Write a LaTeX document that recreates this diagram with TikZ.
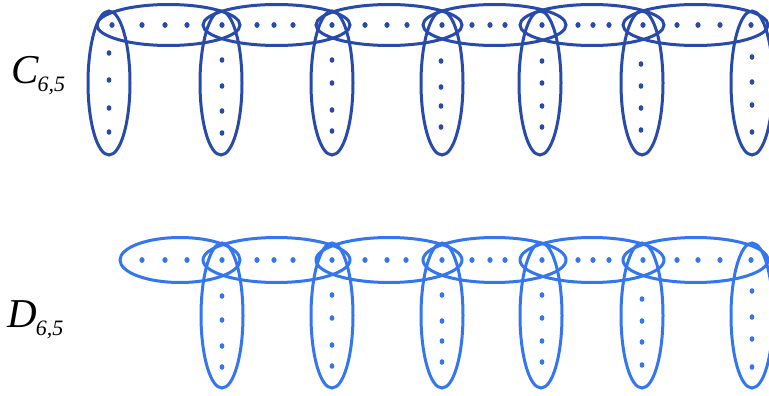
\documentclass[tikz,border=0pt]{standalone}
\usepackage{fontspec}
\setmainfont{Liberation Serif}
\definecolor{cdark}{RGB}{40,74,170}
\definecolor{dlight}{RGB}{52,118,240}
\begin{document}
\begin{tikzpicture}[x=1pt,y=-1pt,
  edge/.style={line width=3pt},
  lbl/.style={anchor=base west, inner sep=0pt, text=black}]
\useasboundingbox (0,0) rectangle (769,396);
% ---------- C_{6,5} ----------
\begin{scope}[cdark]
\foreach \l/\r in {97/240,203/350,316/462,423/566,520/664,623/768}
  \draw[edge] ({(\l+\r)/2},25) ellipse [x radius={(\r-\l)/2}, y radius=20.5];
\foreach \x in {109,221,332,442,540,642,752}
  \draw[edge] (\x,83) ellipse [x radius=21, y radius=72];
% junction and horizontal dots
\foreach \x in {112,142,165,187,222,257,274,293,332,365,387,407,442,472,490,505,542,578,593,609,643,677,698,720,751}
  \fill (\x,25) circle [x radius=2.6, y radius=2.9];
% vertical dots
\foreach \x/\a/\b/\c/\d in {109/53/80/108/132,222/60/86/111/133,332/60/83/110/131,441/61/87/106/127,542/61/83/106/127,641/64/86/108/130,752/57/82/105/132}
  \foreach \y in {\a,\b,\c,\d}
    \fill (\x,\y) circle [x radius=2.4, y radius=2.8];
\end{scope}
% ---------- D_{6,5} ----------
\begin{scope}[dlight]
\foreach \l/\r in {120/240,203/350,316/462,423/566,520/664,623/768}
  \draw[edge] ({(\l+\r)/2},260) ellipse [x radius={(\r-\l)/2}, y radius=22.5];
\foreach \x in {222,332,442,541,642,752}
  \draw[edge] (\x,315.5) ellipse [x radius=21, y radius=72.5];
\foreach \x in {142,165,187,222,257,274,293,332,365,387,406,442,472,490,505,542,578,593,609,643,677,698,720,751}
  \fill (\x,260) circle [x radius=2.6, y radius=2.9];
\foreach \x/\a/\b/\c/\d in {222/296/320/346/367,332/295/318/345/366,442/295/321/341/362,542/295/318/341/362,642/299/321/342/365,752/291/317/339/367}
  \foreach \y in {\a,\b,\c,\d}
    \fill (\x,\y) circle [x radius=2.4, y radius=2.8];
\end{scope}
% ---------- labels ----------
\node[lbl] (labC) at (11,84) {\fontsize{41}{41}\selectfont\itshape C\kern-1pt\raisebox{-8pt}{\fontsize{22}{22}\selectfont 6,5}};
\node[lbl] (labD) at (7,327) {\fontsize{41}{41}\selectfont\itshape D\kern-1pt\raisebox{-8pt}{\fontsize{22}{22}\selectfont 6,5}};
\end{tikzpicture}
\end{document}
